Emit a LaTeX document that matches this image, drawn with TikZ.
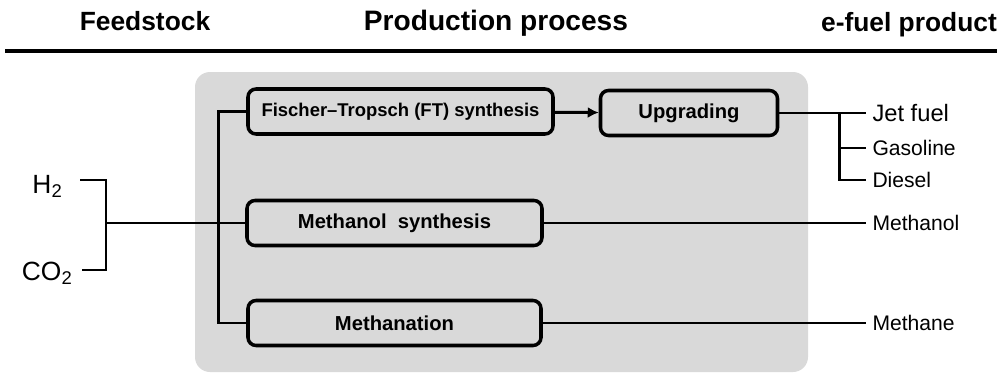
\documentclass[tikz,border=0pt]{standalone}
\usepackage{fontspec}
\setmainfont{Liberation Sans}
\usetikzlibrary{arrows.meta,positioning}
\definecolor{panelgray}{HTML}{D9D9D9}
\tikzset{proc/.style={draw,rounded corners=1.6mm,line width=2pt,fill=panelgray,
  inner sep=0pt,minimum height=9mm,font=\fontsize{11.5}{13}\selectfont\bfseries},
  link/.style={line width=1.7pt,draw=black},
  flow/.style={link,-{Latex[length=2.2mm,width=2.2mm]}},
  head/.style={anchor=base,inner sep=0pt,font=\fontsize{15}{18}\selectfont\bfseries},
  prod/.style={anchor=west,inner xsep=3.5pt,font=\fontsize{12}{14}\selectfont},
  feed/.style={anchor=base east,inner sep=0pt,font=\fontsize{15}{18}\selectfont}}

\begin{document}
\begin{tikzpicture}[x=0.2mm,y=-0.2mm]
 \useasboundingbox (0,0) rectangle (1001,374);
 \node[head] (fs) at (145,30) {Feedstock};
 \node[head,font=\fontsize{16}{18}\selectfont\bfseries] (pp) at (496,30) {Production process};
 \node[head] (ep) at (909,31) {e-fuel product};
 \draw[line width=1.9pt] (5,51) -- (997,51);
 \fill[panelgray,rounded corners=3mm] (195,72) rectangle (808,372);
 % process boxes
 \node[proc,minimum width=61mm,font=\fontsize{10.5}{12}\selectfont\bfseries] (ft) at (400.5,111.5)
  {Fischer--Tropsch (FT) synthesis};
 \node[proc,minimum width=35.4mm] (up) at (689,113) {Upgrading};
 \node[proc,minimum width=59mm] (meoh) at (394.5,223) {Methanol\ \ synthesis};
 \node[proc,minimum width=58.6mm] (meth) at (394.5,323) {Methanation};
 % feedstock
 \node[feed] (h2) at (63,193) {H\textsubscript{2}};
 \node[feed] (co2) at (73,280) {CO\textsubscript{2}};
 \coordinate (bh) at (80,180);
 \coordinate (bc) at (82,270);
 \coordinate (jn) at (106,223);
 \draw[link] (bh) -| (jn |- bc) -- (bc);
 \draw[link] (jn) -- (meoh.west);
 \draw[link] (ft.west) -- ++(-28,0) |- (meth.west);
 \draw[flow] (ft) -- (up);
 % products
 \node[prod,font=\fontsize{13.5}{15}\selectfont] (jet) at (866,113) {Jet fuel};
 \node[prod] (gas) at (866,148) {Gasoline};
 \node[prod] (dsl) at (866,180) {Diesel};
 \node[prod] (mol) at (866,223) {Methanol};
 \node[prod] (mne) at (866,323) {Methane};
 \coordinate (fork) at (839,113);
 \draw[link] (up.east) -- (jet.west);
 \draw[link] (fork) |- (dsl.west);
 \draw[link] (fork |- gas.west) -- (gas.west);
 \draw[link] (meoh.east) -- (mol.west);
 \draw[link] (meth.east) -- (mne.west);
\end{tikzpicture}
\end{document}
